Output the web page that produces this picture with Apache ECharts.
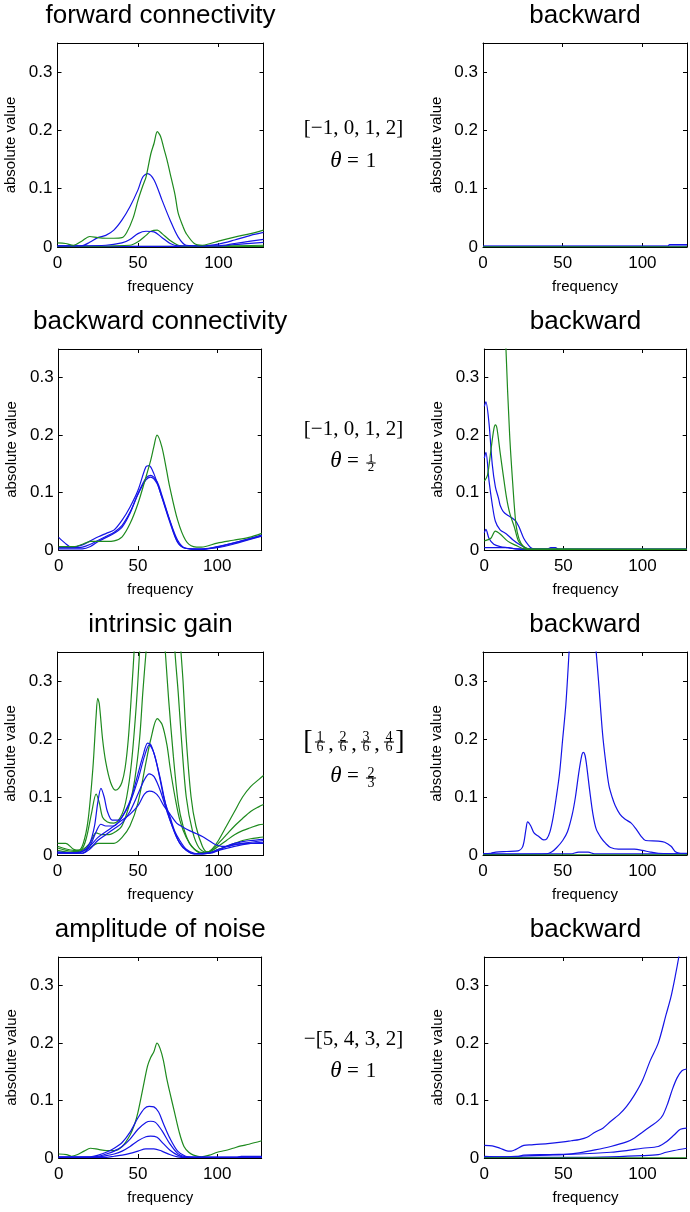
<!DOCTYPE html>
<html><head><meta charset="utf-8">
<script src="https://cdn.jsdelivr.net/npm/echarts@6/dist/echarts.min.js"></script>
<style>html,body{margin:0;padding:0;background:#fff}#c{width:690px;height:1212px}</style>
</head><body><div id="c"></div>
<script>
const BLUE = '#1414e6', GREEN = '#1e8a1e';
const X_MAX = 128, Y_MAX = 0.35, X_INTERVAL = 50, Y_INTERVAL = 0.1;
const panelTitles = ['forward connectivity','backward','backward connectivity','backward','intrinsic gain','backward','amplitude of noise','backward'];
const xName = 'frequency', yName = 'absolute value';

// ---- panel 1: forward connectivity
const p1_g1 = [[0,0.007],[5,0.006],[10,0.003],[15,0.01],[20,0.018],[25,0.016],[30,0.015],[35,0.015],[40,0.016],[43,0.025],[47,0.05],[50,0.08],[53,0.105],[55,0.12],[58,0.16],[60,0.178],[62,0.198],[64,0.19],[66,0.17],[68,0.15],[70,0.126],[73,0.09],[75,0.058],[78,0.035],[80,0.023],[85,0.006],[90,0.003],[95,0.006],[100,0.01],[110,0.017],[120,0.023],[128,0.029]];
const p1_b1 = [[0,0.002],[15,0.002],[20,0.008],[25,0.016],[30,0.02],[35,0.029],[40,0.046],[45,0.069],[50,0.098],[53,0.12],[56,0.126],[60,0.115],[65,0.08],[70,0.046],[75,0.017],[80,0.003],[90,0.002],[100,0.005],[110,0.012],[120,0.02],[128,0.025]];
const p1_b2 = [[0,0.002],[30,0.003],[40,0.007],[45,0.013],[50,0.023],[55,0.027],[60,0.026],[65,0.016],[70,0.006],[75,0.002],[100,0.002],[110,0.006],[120,0.01],[128,0.013]];
const p1_g2 = [[0,0.001],[45,0.003],[50,0.009],[55,0.02],[58,0.027],[62,0.029],[65,0.023],[70,0.011],[75,0.003],[80,0.001],[128,0.003]];
const p1_b3 = [[0,0.001],[100,0.001],[110,0.004],[128,0.008]];
const p1_g3 = [[0,0.0008],[128,0.001]];
// ---- panel 2: backward
const p2_b1 = [[0,0.001],[116,0.001],[117,0.004],[128,0.004]];
const p2_b2 = [[0,0.0015],[128,0.0015]];
const p2_g1 = [[0,0.0004],[128,0.0004]];
// ---- panel 3: backward connectivity
const p3_g1 = [[0,0.006],[5,0.006],[10,0.006],[15,0.01],[20,0.015],[25,0.015],[30,0.015],[35,0.016],[40,0.023],[45,0.046],[50,0.081],[55,0.127],[58,0.156],[60,0.18],[62,0.2],[65,0.18],[68,0.139],[70,0.11],[75,0.052],[80,0.017],[85,0.006],[90,0.005],[100,0.012],[110,0.017],[120,0.022],[128,0.029]];
const p3_b1 = [[0,0.022],[4,0.012],[8,0.005],[15,0.009],[20,0.016],[25,0.023],[30,0.029],[35,0.035],[40,0.052],[45,0.075],[50,0.104],[55,0.145],[57,0.147],[60,0.133],[65,0.093],[70,0.052],[75,0.017],[80,0.003],[90,0.001],[100,0.006],[110,0.012],[120,0.02],[128,0.026]];
const p3_b2 = [[0,0.002],[15,0.002],[20,0.006],[25,0.015],[30,0.022],[35,0.029],[40,0.04],[45,0.064],[50,0.098],[55,0.125],[58,0.13],[62,0.119],[65,0.096],[70,0.052],[75,0.014],[80,0.003],[90,0.001],[100,0.005],[110,0.012],[120,0.019],[128,0.025]];
const p3_b3 = [[0,0.004],[10,0.004],[15,0.005],[20,0.01],[25,0.017],[30,0.024],[35,0.031],[40,0.043],[45,0.066],[50,0.097],[55,0.122],[58,0.127],[62,0.116],[65,0.092],[70,0.049],[75,0.013],[80,0.003],[90,0.002],[100,0.004],[110,0.01],[120,0.018],[128,0.024]];
// ---- panel 4: backward
const p4_g1 = [[0,0.8],[6,0.9],[11,0.6],[13.7,0.35],[16,0.202],[18,0.115],[20,0.045],[22,0.019],[25,0.005],[28,0.001],[128,0.001]];
const p4_g2 = [[0,0.12],[2,0.13],[4,0.17],[6,0.21],[7,0.218],[8,0.212],[10,0.17],[12,0.13],[14,0.092],[16,0.065],[19,0.04],[21.5,0.016],[24,0.008],[28,0.002],[128,0.001]];
const p4_g3 = [[0,0.016],[4,0.02],[7,0.033],[10,0.028],[15,0.015],[20,0.008],[25,0.002],[30,0.001],[128,0.001]];
const p4_b1 = [[0,0.25],[1,0.258],[3,0.22],[5,0.15],[7,0.11],[9,0.09],[10,0.078],[12,0.067],[15,0.06],[18,0.055],[20,0.05],[22,0.04],[25,0.02],[28,0.008],[30,0.003],[33,0.001],[128,0.001]];
const p4_b2 = [[0,0.16],[1,0.17],[3,0.12],[5,0.08],[7,0.05],[10,0.035],[14,0.028],[18,0.018],[22,0.01],[26,0.004],[30,0.001],[128,0.001]];
const p4_b3 = [[0,0.03],[1,0.036],[3,0.02],[6,0.01],[10,0.006],[15,0.004],[20,0.002],[25,0.001],[128,0.001]];
const p4_b4 = [[0,0.004],[15,0.004],[20,0.002],[40,0.002],[42,0.004],[45,0.004],[47,0.001],[128,0.001]];
// ---- panel 5: intrinsic gain
const p5_g1 = [[0,0.02],[5,0.02],[10,0.01],[13,0.008],[16,0.02],[19,0.06],[22,0.15],[24,0.24],[25,0.27],[26,0.26],[28,0.2],[30,0.16],[33,0.125],[36,0.112],[38,0.115],[40,0.125],[42,0.15],[44,0.2],[46,0.28],[48,0.37],[52,0.6],[62,0.9],[72,0.6],[76,0.38],[78,0.3],[80,0.2],[83,0.1],[86,0.05],[90,0.015],[93,0.005],[96,0.01],[100,0.025],[105,0.05],[110,0.075],[115,0.1],[120,0.118],[125,0.13],[128,0.137]];
const p5_g2 = [[0,0.015],[10,0.008],[15,0.01],[18,0.03],[21,0.07],[24,0.105],[26,0.09],[28,0.065],[31,0.057],[35,0.055],[40,0.07],[43,0.1],[46,0.16],[49,0.26],[51,0.35],[54,0.5],[62,0.7],[70,0.5],[73,0.35],[75,0.28],[77,0.2],[80,0.1],[84,0.04],[88,0.012],[92,0.005],[96,0.008],[100,0.02],[105,0.035],[110,0.05],[115,0.063],[120,0.075],[125,0.083],[128,0.087]];
const p5_g3 = [[0,0.012],[10,0.006],[15,0.008],[20,0.02],[24,0.038],[28,0.035],[32,0.035],[36,0.04],[40,0.05],[45,0.09],[48,0.13],[51,0.2],[53,0.28],[55,0.35],[58,0.45],[62,0.5],[65,0.42],[67,0.35],[69,0.27],[72,0.17],[75,0.09],[78,0.05],[82,0.02],[86,0.008],[90,0.004],[95,0.006],[100,0.015],[105,0.025],[110,0.035],[115,0.042],[120,0.047],[125,0.052],[128,0.053]];
const p5_g4 = [[0,0.008],[10,0.004],[15,0.006],[20,0.012],[25,0.02],[30,0.02],[35,0.02],[40,0.03],[45,0.05],[50,0.09],[55,0.16],[58,0.2],[62,0.235],[65,0.225],[68,0.19],[70,0.15],[73,0.1],[76,0.06],[80,0.03],[85,0.01],[90,0.003],[95,0.004],[100,0.01],[105,0.015],[110,0.02],[115,0.025],[120,0.028],[125,0.03],[128,0.031]];
const p5_b1 = [[0,0.005],[10,0.003],[15,0.005],[20,0.02],[23,0.05],[25,0.09],[27,0.115],[29,0.1],[31,0.075],[34,0.06],[38,0.06],[42,0.075],[46,0.1],[50,0.14],[53,0.17],[56,0.193],[58,0.19],[61,0.165],[64,0.13],[67,0.09],[70,0.065],[73,0.04],[76,0.025],[80,0.01],[85,0.003],[90,0.002],[95,0.004],[100,0.008],[105,0.015],[110,0.02],[115,0.023],[120,0.025],[128,0.027]];
const p5_b2 = [[0,0.003],[15,0.003],[20,0.015],[24,0.04],[27,0.053],[30,0.05],[35,0.05],[40,0.065],[45,0.09],[50,0.13],[54,0.17],[57,0.19],[60,0.175],[63,0.14],[66,0.1],[70,0.06],[75,0.025],[80,0.008],[85,0.002],[95,0.004],[100,0.01],[110,0.018],[120,0.022],[128,0.025]];
const p5_b3 = [[0,0.003],[15,0.003],[20,0.01],[25,0.025],[30,0.035],[35,0.045],[40,0.055],[45,0.075],[50,0.105],[54,0.13],[57,0.14],[60,0.135],[64,0.11],[68,0.075],[72,0.045],[76,0.02],[80,0.008],[85,0.002],[95,0.003],[100,0.008],[110,0.015],[120,0.02],[128,0.022]];
const p5_b4 = [[0,0.005],[10,0.004],[15,0.006],[20,0.015],[25,0.03],[30,0.04],[35,0.05],[40,0.06],[45,0.07],[50,0.085],[54,0.105],[57,0.11],[60,0.108],[63,0.1],[66,0.085],[70,0.07],[74,0.055],[78,0.048],[82,0.042],[86,0.037],[90,0.032],[94,0.025],[98,0.018],[102,0.015],[106,0.015],[110,0.018],[120,0.02],[128,0.02]];
// ---- panel 6: backward
const p6_b1 = [[0,0.002],[5,0.003],[8,0.005],[15,0.006],[22,0.007],[25,0.015],[27,0.045],[28,0.057],[30,0.05],[32,0.038],[35,0.032],[38,0.026],[40,0.028],[42,0.04],[44,0.065],[46,0.1],[48,0.14],[50,0.2],[52,0.26],[54,0.35],[56,0.45],[60,0.6],[64,0.6],[68,0.45],[71,0.35],[72.5,0.3],[75,0.21],[77,0.16],[79,0.12],[81,0.1],[83,0.085],[86,0.07],[89,0.062],[93,0.055],[96,0.045],[99,0.033],[102,0.025],[110,0.024],[114,0.022],[118,0.015],[121,0.005],[124,0.003],[128,0.003]];
const p6_b2 = [[0,0.001],[40,0.002],[43,0.005],[46,0.012],[50,0.025],[53,0.04],[56,0.07],[58,0.1],[60,0.14],[62,0.172],[63,0.177],[64,0.172],[65,0.155],[67,0.11],[69,0.07],[71,0.045],[74,0.03],[77,0.02],[80,0.013],[85,0.01],[90,0.01],[95,0.01],[100,0.008],[105,0.005],[110,0.003],[128,0.002]];
const p6_b3 = [[0,0.002],[55,0.002],[60,0.005],[66,0.005],[70,0.002],[128,0.002]];
const p6_g1 = [[0,0.0004],[128,0.0004]];
// ---- panel 7: amplitude of noise
const p7_g1 = [[0,0.007],[5,0.006],[8,0.003],[12,0.006],[16,0.012],[20,0.017],[25,0.015],[30,0.013],[35,0.013],[40,0.02],[45,0.04],[48,0.06],[50,0.08],[53,0.12],[56,0.16],[58,0.175],[60,0.185],[62,0.2],[64,0.19],[66,0.17],[68,0.14],[70,0.115],[73,0.08],[76,0.045],[79,0.02],[82,0.01],[85,0.005],[90,0.002],[95,0.005],[100,0.01],[105,0.013],[110,0.017],[115,0.021],[120,0.024],[128,0.03]];
const p7_b1 = [[0,0.002],[20,0.002],[25,0.005],[30,0.01],[35,0.017],[40,0.027],[45,0.045],[50,0.07],[54,0.086],[57,0.09],[60,0.089],[63,0.08],[66,0.06],[70,0.035],[75,0.012],[80,0.003],[85,0.001],[112,0.001],[115,0.003],[128,0.003]];
const p7_b2 = [[0,0.001],[20,0.001],[25,0.003],[30,0.007],[35,0.012],[40,0.02],[45,0.033],[50,0.05],[55,0.062],[58,0.064],[61,0.062],[65,0.048],[70,0.025],[75,0.008],[80,0.002],[128,0.001]];
const p7_b3 = [[0,0.001],[25,0.002],[30,0.004],[35,0.007],[40,0.012],[45,0.02],[50,0.03],[55,0.037],[58,0.038],[62,0.036],[66,0.025],[70,0.014],[75,0.005],[80,0.001],[128,0.001]];
const p7_b4 = [[0,0.001],[30,0.001],[35,0.003],[40,0.005],[45,0.008],[50,0.012],[55,0.016],[60,0.016],[65,0.012],[70,0.006],[75,0.002],[80,0.001],[128,0.001]];
// ---- panel 8: backward
const p8_b1 = [[0,0.022],[5,0.021],[10,0.017],[15,0.012],[17,0.012],[20,0.015],[25,0.022],[30,0.023],[40,0.025],[50,0.028],[55,0.03],[60,0.032],[65,0.036],[70,0.045],[75,0.052],[80,0.064],[85,0.075],[90,0.09],[95,0.11],[100,0.135],[105,0.17],[110,0.2],[115,0.25],[118,0.28],[121,0.32],[123,0.35],[126,0.4],[128,0.43]];
const p8_b2 = [[0,0.003],[10,0.002],[20,0.003],[30,0.004],[40,0.005],[50,0.006],[60,0.009],[70,0.014],[80,0.02],[90,0.028],[95,0.035],[100,0.045],[105,0.055],[110,0.065],[113,0.075],[116,0.095],[119,0.12],[122,0.14],[125,0.152],[128,0.155]];
const p8_b3 = [[0,0.002],[20,0.002],[25,0.005],[40,0.006],[60,0.007],[80,0.01],[90,0.013],[100,0.017],[110,0.02],[115,0.028],[120,0.04],[124,0.05],[128,0.052]];
const p8_b4 = [[0,0.001],[60,0.001],[80,0.002],[100,0.004],[110,0.006],[115,0.01],[120,0.013],[128,0.017]];
const p8_g1 = [[0,0.0004],[128,0.0004]];

const panelSeries = [
  [[p1_g3,GREEN],[p1_b3,BLUE],[p1_g2,GREEN],[p1_b2,BLUE],[p1_b1,BLUE],[p1_g1,GREEN]],
  [[p2_b2,BLUE],[p2_b1,BLUE],[p2_g1,GREEN]],
  [[p3_b3,BLUE],[p3_b2,BLUE],[p3_b1,BLUE],[p3_g1,GREEN]],
  [[p4_b4,BLUE],[p4_b3,BLUE],[p4_b2,BLUE],[p4_b1,BLUE],[p4_g3,GREEN],[p4_g2,GREEN],[p4_g1,GREEN]],
  [[p5_g1,GREEN],[p5_g2,GREEN],[p5_g3,GREEN],[p5_g4,GREEN],[p5_b4,BLUE],[p5_b3,BLUE],[p5_b2,BLUE],[p5_b1,BLUE]],
  [[p6_b3,BLUE],[p6_b2,BLUE],[p6_b1,BLUE],[p6_g1,GREEN]],
  [[p7_g1,GREEN],[p7_b4,BLUE],[p7_b3,BLUE],[p7_b2,BLUE],[p7_b1,BLUE]],
  [[p8_b4,BLUE],[p8_b3,BLUE],[p8_b2,BLUE],[p8_b1,BLUE],[p8_g1,GREEN]]
];

// layout
const rowTop = [43, 349, 652, 957];
const rowH = [204, 201, 203, 201];
const colLeft = [[57.5, 483], [58.7, 484.3], [57.5, 483], [58.7, 484.3]];
const colW = [[206, 204], [203, 202.4], [206, 204], [203, 202.4]];

const SANS = '"Liberation Sans", Arial, sans-serif';
const SERIF = '"Liberation Serif", "Times New Roman", serif';

const grid = [], xAxis = [], yAxis = [], series = [], graphic = [];
const axisLineStyle = {color: '#000', width: 1};
for (let i = 0; i < 8; i++) {
  const r = Math.floor(i / 2), c = i % 2;
  const left = colLeft[r][c], top = rowTop[r], w = colW[r][c], h = rowH[r];
  grid.push({left: left, top: top, width: w, height: h, show: false, containLabel: false});
  const tick = {show: true, inside: true, length: 4, lineStyle: axisLineStyle};
  xAxis.push({gridIndex: i, type: 'value', min: 0, max: X_MAX, interval: X_INTERVAL, position: 'bottom',
    axisLine: {show: true, onZero: false, lineStyle: axisLineStyle}, axisTick: tick,
    axisLabel: {color: '#000', fontSize: 17, fontFamily: SANS, margin: 8, showMaxLabel: false},
    splitLine: {show: false}, name: xName, nameLocation: 'middle', nameGap: 32,
    nameTextStyle: {color: '#000', fontSize: 15, fontFamily: SANS}});
  xAxis.push({gridIndex: i, type: 'value', min: 0, max: X_MAX, interval: X_INTERVAL, position: 'top',
    axisLine: {show: true, onZero: false, lineStyle: axisLineStyle}, axisTick: tick,
    axisLabel: {show: false}, splitLine: {show: false}});
  yAxis.push({gridIndex: i, type: 'value', min: 0, max: Y_MAX, interval: Y_INTERVAL, position: 'left',
    axisLine: {show: true, onZero: false, lineStyle: axisLineStyle}, axisTick: tick,
    axisLabel: {color: '#000', fontSize: 17, fontFamily: SANS, margin: 5, showMaxLabel: false},
    splitLine: {show: false}, name: yName, nameLocation: 'middle', nameGap: 39,
    nameTextStyle: {color: '#000', fontSize: 15, fontFamily: SANS}});
  yAxis.push({gridIndex: i, type: 'value', min: 0, max: Y_MAX, interval: Y_INTERVAL, position: 'right',
    axisLine: {show: true, onZero: false, lineStyle: axisLineStyle}, axisTick: tick,
    axisLabel: {show: false}, splitLine: {show: false}});
  panelSeries[i].forEach(([data, color]) => {
    series.push({type: 'line', xAxisIndex: 2 * i, yAxisIndex: 2 * i, data: data, showSymbol: false, symbol: 'none',
      smooth: 0.3, clip: true, silent: true, lineStyle: {color: color, width: 1.2}});
  });
  graphic.push({type: 'text', silent: true, style: {text: panelTitles[i], x: left + w / 2, y: top - 27,
    align: 'center', verticalAlign: 'middle', font: '26px ' + SANS, fill: '#000'}});
}

function txt(s, x, y, size, italic, align) {
  return {type: 'text', silent: true, style: {text: s, x: x, y: y, align: align || 'center', verticalAlign: 'middle',
    font: (italic ? 'italic ' : '') + size + 'px ' + SERIF, fill: '#000'}};
}
function frac(cx, cy, num, den, size) {
  const hw = size * 0.36;
  return [
    {type: 'text', silent: true, style: {text: num, x: cx, y: cy + 2, align: 'center', verticalAlign: 'bottom', font: size + 'px ' + SERIF, fill: '#000'}},
    {type: 'line', silent: true, shape: {x1: cx - hw, y1: cy, x2: cx + hw, y2: cy}, style: {stroke: '#000', lineWidth: 1}},
    {type: 'text', silent: true, style: {text: den, x: cx, y: cy - 1.5, align: 'center', verticalAlign: 'top', font: size + 'px ' + SERIF, fill: '#000'}}
  ];
}
function thetaLine(y) {
  return [txt('θ', 336, y, 23, true), txt('=', 353, y, 21, false)];
}
// row 1
graphic.push(txt('[−1, 0, 1, 2]', 353.5, 128, 21, false));
graphic.push(...thetaLine(161), txt('1', 371, 161, 21, false));
// row 2
graphic.push(txt('[−1, 0, 1, 2]', 353.5, 429, 21, false));
graphic.push(...thetaLine(461), ...frac(371, 463, '1', '2', 13));
// row 3
graphic.push(txt('[', 308, 742, 28, false), txt(']', 400, 742, 28, false));
[[320, '1'], [343, '2'], [366, '3'], [389, '4']].forEach(([x, n]) => graphic.push(...frac(x, 742, n, '6', 14)));
[331, 354, 377].forEach(x => graphic.push(txt(',', x, 744, 22, false)));
graphic.push(...thetaLine(776), ...frac(371, 778, '2', '3', 14));
// row 4
graphic.push(txt('−[5, 4, 3, 2]', 353.5, 1039, 21, false));
graphic.push(...thetaLine(1071), txt('1', 371, 1071, 21, false));

const chart = echarts.init(document.getElementById('c'), null, {renderer: 'canvas'});
chart.setOption({animation: false, backgroundColor: '#fff', textStyle: {fontFamily: SANS},
  grid, xAxis, yAxis, series, graphic});
</script></body></html>
